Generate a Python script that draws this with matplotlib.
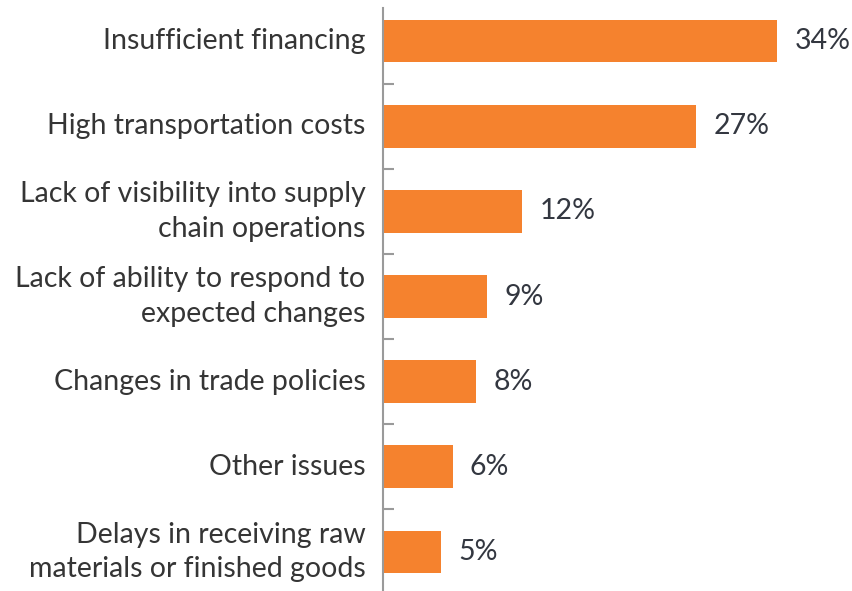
import matplotlib
matplotlib.use("Agg")
import matplotlib.pyplot as plt

categories = [
    "Insufficient financing",
    "High transportation costs",
    "Lack of visibility into supply\nchain operations",
    "Lack of ability to respond to\nexpected changes",
    "Changes in trade policies",
    "Other issues",
    "Delays in receiving raw\nmaterials or finished goods",
]
values = [34, 27, 12, 9, 8, 6, 5]
labels = ["34%", "27%", "12%", "9%", "8%", "6%", "5%"]

plt.rcParams['font.family'] = ['Lato', 'DejaVu Sans']

fig = plt.figure(figsize=(8.53, 5.91), dpi=100)
ax = fig.add_axes([383 / 853, 0, 464 / 853, 1 - 8 / 591])

pos = list(range(len(categories)))
ax.barh(pos, values, height=0.5, color="#F5822E")

for p, v, lab in zip(pos, values, labels):
    ax.text(v + 1.5, p, lab, va="center", ha="left", fontsize=20.5, color="#333740")

for p, c in zip(pos, categories):
    ax.text(-1.5, p, c, va="center", ha="right", fontsize=20.5, color="#353535",
            linespacing=1.4)

ax.set_xlim(0, 40)
ax.set_ylim(6.46, -0.39)

for s in ["top", "right", "bottom"]:
    ax.spines[s].set_visible(False)
ax.spines["left"].set_color("#9a9a9a")
ax.spines["left"].set_linewidth(1.5)

ax.set_xticks([])
ax.set_yticks([p + 0.5 for p in pos[:-1]])
ax.set_yticklabels([])
ax.tick_params(axis="y", direction="in", length=8, width=1.5, color="#9a9a9a")

fig.savefig("out.png", dpi=100)
